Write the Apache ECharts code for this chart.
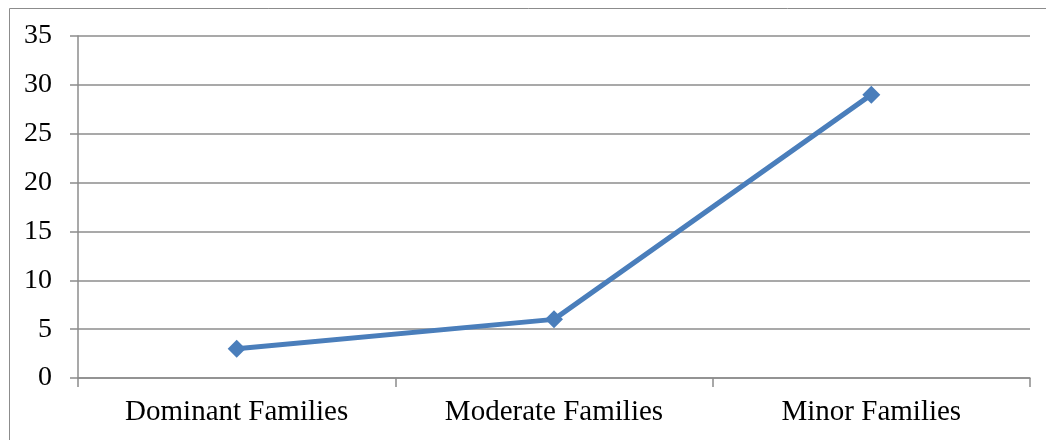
<!DOCTYPE html>
<html>
<head>
<meta charset="utf-8">
<script src="https://cdn.jsdelivr.net/npm/echarts@6/dist/echarts.min.js"></script>
<style>
  html, body { margin: 0; padding: 0; background: #fff; }
  #chart { width: 1046px; height: 440px; }
</style>
</head>
<body>
<div id="chart"></div>
<script>
// Number of families per group
const categories = ['Dominant Families', 'Moderate Families', 'Minor Families'];
const familyCounts = [3, 6, 29];
const yTicks = { min: 0, max: 35, interval: 5 };

const chart = echarts.init(document.getElementById('chart'), null, { renderer: 'canvas' });
const fontFamily = '"Liberation Serif", "Times New Roman", serif';
const gridGray = '#8c8c8c';

chart.setOption({
  animation: false,
  backgroundColor: '#ffffff',
  graphic: [{
    type: 'rect',
    shape: { x: 9.5, y: 8.5, width: 1100, height: 500 },
    style: { fill: 'none', stroke: '#8c8c8c', lineWidth: 1 },
    silent: true
  }],
  grid: { left: 78, right: 16, top: 36, bottom: 62, containLabel: false },
  xAxis: {
    type: 'category',
    data: categories,
    boundaryGap: true,
    axisLine: { show: true, lineStyle: { color: gridGray, width: 1.5 } },
    axisTick: { show: true, alignWithLabel: false, length: 9, lineStyle: { color: gridGray, width: 1.5 } },
    axisLabel: { color: '#000', fontFamily, fontSize: 29, margin: 20 },
    splitLine: { show: false }
  },
  yAxis: {
    type: 'value',
    min: yTicks.min,
    max: yTicks.max,
    interval: yTicks.interval,
    axisLine: { show: true, lineStyle: { color: gridGray, width: 1.5 } },
    axisTick: { show: true, inside: false, length: 8, lineStyle: { color: gridGray, width: 1.5 } },
    axisLabel: { color: '#000', fontFamily, fontSize: 28, margin: 26 },
    splitLine: { show: true, lineStyle: { color: gridGray, width: 1.5 } }
  },
  series: [{
    type: 'line',
    data: familyCounts,
    symbol: 'diamond',
    symbolSize: 18,
    itemStyle: { color: '#4a7ebb' },
    lineStyle: { color: '#4a7ebb', width: 5 }
  }]
});
</script>
</body>
</html>
